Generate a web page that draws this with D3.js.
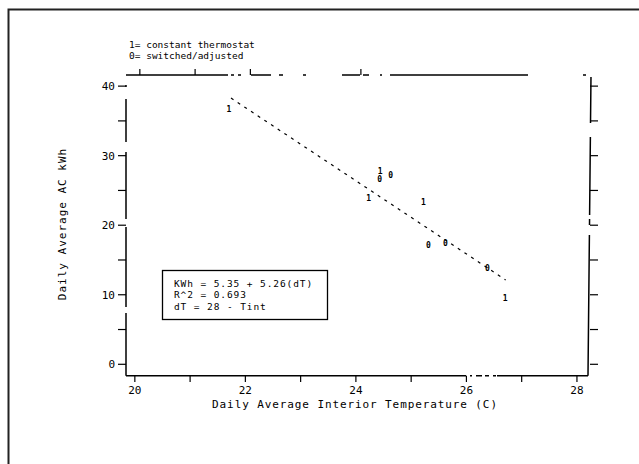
<!DOCTYPE html>
<html>
<head>
<meta charset="utf-8">
<script src="https://cdn.jsdelivr.net/npm/d3@7"></script>
<style>
  body { margin: 0; background: #fff; }
  text { font-family: "DejaVu Sans Mono", monospace; fill: #000; }
</style>
</head>
<body>
<div id="chart"></div>
<script>
// constant thermostat points ("1")
var constTemp = [21.70, 24.23, 24.44, 25.22, 26.70];
var constKwh  = [36.7, 23.9, 27.8, 23.4, 9.6];
// switched / adjusted points ("0")
var switchTemp = [24.43, 24.63, 25.31, 25.62, 26.38];
var switchKwh  = [26.7, 27.2, 17.1, 17.4, 13.8];

// fit kWh = a + b(28 - Tint)
var fitIntercept = 5.35;
var fitSlope = 5.26;
var fitBase = 28;
var fitRange = [21.74, 26.71];

var xTicks = [20, 21, 22, 23, 24, 25, 26, 27, 28];
var xTickLabels = [20, 22, 24, 26, 28];
var yTicks = [0, 5, 10, 15, 20, 25, 30, 35, 40];
var yTickLabels = [0, 10, 20, 30, 40];

var legendLines = ["KWh = 5.35 + 5.26(dT)", "R^2 = 0.693", "dT = 28 - Tint"];

var svg = d3.select("#chart").append("svg")
	.attr("width", 639)
	.attr("height", 464);

// outer frame
svg.append("path")
	.attr("d", "M8.5,464V9.5H639")
	.attr("fill", "none")
	.attr("stroke", "#222")
	.attr("stroke-width", 2);

var x = d3.scaleLinear().domain([19.84, 28.2]).range([126, 588]);
var y = d3.scaleLinear().domain([-1.64, 41.6]).range([375.7, 75]);

var ink = "#000";

// axis box (the scan is worn, so some stretches break up)
svg.append("line").attr("x1", 126).attr("x2", 126).attr("y1", 75).attr("y2", 375.7)
	.attr("stroke", ink).attr("stroke-width", 1.5)
	.attr("stroke-dasharray", "0,10,2,12,43,10,67,8,80,6,100");
svg.append("line").attr("x1", 126).attr("x2", 588).attr("y1", 375.7).attr("y2", 375.7)
	.attr("stroke", ink).attr("stroke-width", 1.5)
	.attr("stroke-dasharray", "340,4,2,4,6,3,4,4,3,1,100");
svg.append("line").attr("x1", 591).attr("x2", 588).attr("y1", 75).attr("y2", 375.7)
	.attr("stroke", ink).attr("stroke-width", 1.5)
	.attr("stroke-dasharray", "0,2,46,14,78,4,6,10,200");
svg.append("line").attr("x1", 126).attr("x2", 591).attr("y1", 75).attr("y2", 75)
	.attr("stroke", ink).attr("stroke-width", 1.5)
	.attr("stroke-dasharray", "102,3,3,4,3,10,20,8,4,20,3,36,18,3,6,11,2,8,138,55,3,10");

// bottom ticks
svg.selectAll(".xtick").data(xTicks).enter().append("line")
	.attr("class", "xtick")
	.attr("x1", function(d){ return x(d); })
	.attr("x2", function(d){ return x(d); })
	.attr("y1", 375.7).attr("y2", 382)
	.attr("stroke", ink).attr("stroke-width", 1.2);

// top ticks (pointing up)
svg.selectAll(".ttick").data([20, 21, 22, 24]).enter().append("line")
	.attr("class", "ttick")
	.attr("x1", function(d){ return x(d) + 5; })
	.attr("x2", function(d){ return x(d) + 5; })
	.attr("y1", 75).attr("y2", 69)
	.attr("stroke", ink).attr("stroke-width", 1.2);

svg.selectAll(".xlab").data(xTickLabels).enter().append("text")
	.attr("class", "xlab")
	.attr("x", function(d){ return x(d); })
	.attr("y", 394)
	.attr("text-anchor", "middle")
	.attr("font-size", 11)
	.text(function(d){ return d; });

// left ticks
svg.selectAll(".ytick").data(yTicks).enter().append("line")
	.attr("class", "ytick")
	.attr("x1", 118).attr("x2", 126)
	.attr("y1", function(d){ return y(d); })
	.attr("y2", function(d){ return y(d); })
	.attr("stroke", ink).attr("stroke-width", 1.2);

// right ticks
svg.selectAll(".rtick").data(yTicks).enter().append("line")
	.attr("class", "rtick")
	.attr("x1", 590).attr("x2", 598)
	.attr("y1", function(d){ return y(d); })
	.attr("y2", function(d){ return y(d); })
	.attr("stroke", ink).attr("stroke-width", 1.2);

svg.selectAll(".ylab").data(yTickLabels).enter().append("text")
	.attr("class", "ylab")
	.attr("x", 115)
	.attr("y", function(d){ return y(d) + 4; })
	.attr("text-anchor", "end")
	.attr("font-size", 11)
	.text(function(d){ return d; });

// axis titles
svg.append("text")
	.attr("x", 355).attr("y", 408)
	.attr("text-anchor", "middle")
	.attr("font-size", 11)
	.attr("letter-spacing", 0.9)
	.text("Daily Average Interior Temperature (C)");

svg.append("text")
	.attr("transform", "translate(66,224) rotate(-90)")
	.attr("text-anchor", "middle")
	.attr("font-size", 11)
	.attr("letter-spacing", 1)
	.text("Daily Average AC kWh");

// top legend
svg.append("text").attr("x", 129).attr("y", 48).attr("font-size", 9.5)
	.text("1= constant thermostat");
svg.append("text").attr("x", 129).attr("y", 59).attr("font-size", 9.5)
	.text("0= switched/adjusted");

// regression line
var fitLine = d3.line()
	.x(function(d){ return x(d); })
	.y(function(d){ return y(fitIntercept + fitSlope * (fitBase - d)); });

svg.append("path")
	.attr("d", fitLine(fitRange))
	.attr("fill", "none")
	.attr("stroke", ink)
	.attr("stroke-width", 1.2)
	.attr("stroke-dasharray", "3,5");

// points drawn as digits
function drawDigits(temps, kwhs, glyph){
	svg.selectAll(".pt" + glyph).data(temps).enter().append("text")
		.attr("class", "pt" + glyph)
		.attr("x", function(d){ return x(d); })
		.attr("y", function(d, i){ return y(kwhs[i]) + 3; })
		.attr("text-anchor", "middle")
		.attr("font-size", 8)
		.attr("font-weight", "bold")
		.text(glyph);
}
drawDigits(constTemp, constKwh, "1");
drawDigits(switchTemp, switchKwh, "0");

// fit legend box
svg.append("rect")
	.attr("x", 162.5).attr("y", 270.5)
	.attr("width", 165).attr("height", 49)
	.attr("fill", "#fff")
	.attr("stroke", ink)
	.attr("stroke-width", 1.3);

svg.selectAll(".leg").data(legendLines).enter().append("text")
	.attr("class", "leg")
	.attr("x", 174)
	.attr("y", function(d, i){ return 287 + i * 11.3; })
	.attr("font-family", "Liberation Sans, Arial, sans-serif")
	.attr("font-size", 9.5)
	.attr("letter-spacing", 0.9)
	.text(function(d){ return d; });
</script>
</body>
</html>
